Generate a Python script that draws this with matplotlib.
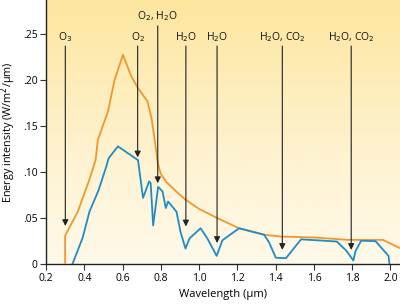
import numpy as np
import matplotlib
matplotlib.use('Agg')
import matplotlib.pyplot as plt
from matplotlib.colors import LinearSegmentedColormap

plt.rcParams['font.family'] = ['Open Sans', 'DejaVu Sans']

# top of atmosphere (orange)
top_x = [0.30, 0.30, 0.366, 0.427, 0.459, 0.471, 0.524, 0.558, 0.602, 0.646, 0.681,
         0.730, 0.752, 0.768, 0.784, 0.800, 0.830, 0.880, 0.930, 1.00, 1.096, 1.209,
         1.340, 1.428, 1.60, 1.778, 1.961, 2.05]
top_y = [0.0, 0.031, 0.057, 0.092, 0.113, 0.135, 0.166, 0.200, 0.2275, 0.204, 0.191,
         0.177, 0.158, 0.135, 0.110, 0.098, 0.089, 0.079, 0.070, 0.060, 0.050, 0.039,
         0.032, 0.030, 0.029, 0.0264, 0.0264, 0.0174]

# sea level (blue)
sea_x = [0.338, 0.392, 0.427, 0.474, 0.515, 0.527, 0.576, 0.681, 0.707, 0.739, 0.747,
         0.760, 0.786, 0.809, 0.826, 0.838, 0.882, 0.903, 0.929, 0.950, 1.008, 1.043,
         1.092, 1.122, 1.209, 1.340, 1.366, 1.401, 1.454, 1.533, 1.720, 1.770, 1.806,
         1.818, 1.847, 1.922, 1.990, 1.995]
sea_y = [0.0, 0.029, 0.057, 0.080, 0.106, 0.115, 0.128, 0.113, 0.072, 0.090, 0.088,
         0.042, 0.084, 0.079, 0.061, 0.068, 0.057, 0.035, 0.017, 0.028, 0.039, 0.028,
         0.009, 0.026, 0.039, 0.032, 0.0235, 0.007, 0.0065, 0.027, 0.0246, 0.0145, 0.004,
         0.0145, 0.0255, 0.025, 0.009, 0.0]

# absorbers: label, x, arrow tip y, label level
abs_labels = ['O$_3$', 'O$_2$', 'O$_2$, H$_2$O', 'H$_2$O', 'H$_2$O', 'H$_2$O, CO$_2$', 'H$_2$O, CO$_2$']
abs_x = [0.301, 0.679, 0.784, 0.931, 1.094, 1.435, 1.795]
abs_tip = [0.0415, 0.116, 0.088, 0.041, 0.023, 0.0155, 0.0155]
abs_high = [False, False, True, False, False, False, False]

fig = plt.figure(figsize=(4.0, 3.04), dpi=100)
ax = fig.add_axes([0.115, 0.131, 0.885, 0.869])

cmap = LinearSegmentedColormap.from_list('bg', ['#FDE69E', '#FEF1CA', '#FEF9EA'])
grad = np.linspace(0, 1, 256).reshape(-1, 1)
ax.imshow(grad, cmap=cmap, aspect='auto', extent=[0.2, 2.05, 0, 0.287],
          origin='upper', zorder=0)
ax.set_xlim(0.2, 2.05)
ax.set_ylim(0, 0.287)

ax.plot(top_x, top_y, color='#F0982E', lw=1.3, zorder=3)
ax.plot(sea_x, sea_y, color='#1E8CC6', lw=1.3, zorder=3)

for lab, x, tip, high in zip(abs_labels, abs_x, abs_tip, abs_high):
    ly = 0.270 if high else 0.247
    start = 0.259 if high else 0.237
    ax.annotate('', xy=(x, tip), xytext=(x, start),
                arrowprops=dict(arrowstyle='-|>', color='#222222', lw=0.8,
                                mutation_scale=9, shrinkA=0, shrinkB=0), zorder=4)
    ax.text(x, ly, lab, ha='center', va='center', fontsize=7.5, color='#111111')

ax.set_xticks(np.arange(0.2, 2.01, 0.2))
ax.set_xticklabels(['%.1f' % v for v in np.arange(0.2, 2.01, 0.2)])
ax.set_yticks([0, 0.05, 0.10, 0.15, 0.20, 0.25])
ax.set_yticklabels(['0', '.05', '.10', '.15', '.20', '.25'])
ax.tick_params(labelsize=7.5, length=4, width=0.8, color='#333333', pad=2)
for s in ['top', 'right']:
    ax.spines[s].set_visible(False)
for s in ['left', 'bottom']:
    ax.spines[s].set_linewidth(1.0)
    ax.spines[s].set_color('#222222')

ax.set_xlabel('Wavelength (\u03bcm)', fontsize=8, labelpad=4)
ax.set_ylabel('Energy intensity (W/m$^2$/\u03bcm)', fontsize=7.8)
ax.yaxis.set_label_coords(-0.078, 0.5)

fig.savefig('out.png', dpi=100)
